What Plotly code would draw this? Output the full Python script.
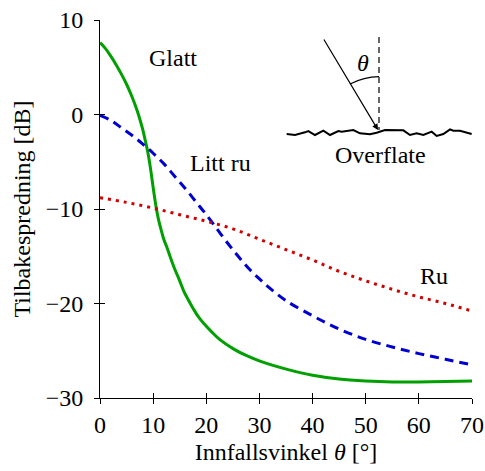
import plotly.graph_objects as go

# ---- data ----
glatt_x = [0, 1, 2, 3, 4, 5, 6, 7, 7.5, 8, 8.5, 9, 9.5, 10, 10.5, 11, 11.5, 12, 12.55, 13.3, 14.1, 15, 15.7, 16.5, 17.5, 18.5, 19.5, 21, 22.5, 25.1, 27.5, 30.1, 35.4, 40, 45, 50, 55, 60, 65, 70]
glatt_y = [7.6, 7.0, 6.2, 5.3, 4.3, 3.2, 1.9, 0.4, -0.5, -1.5, -2.7, -4.0, -5.7, -7.7, -9.6, -11.1, -12.2, -13.2, -14.0, -15.2, -16.4, -17.6, -18.6, -19.5, -20.5, -21.4, -22.1, -23.0, -23.8, -24.8, -25.5, -26.1, -27.0, -27.6, -28.0, -28.2, -28.3, -28.3, -28.25, -28.2]

littru_x = [0, 2, 4, 6, 8, 10, 12, 14, 16, 18, 20, 22, 24, 26, 28, 30, 32, 35, 40, 45, 50, 55, 60, 65, 70]
littru_y = [-0.1, -0.6, -1.4, -2.2, -3.1, -4.1, -5.2, -6.5, -7.8, -9.2, -10.6, -12.1, -13.6, -15.0, -16.3, -17.4, -18.4, -19.7, -21.3, -22.7, -23.8, -24.6, -25.3, -25.9, -26.5]

ru_x = [0, 5, 10, 15, 20, 25, 30, 35, 40, 45, 50, 55, 60, 65, 70]
ru_y = [-8.8, -9.3, -9.9, -10.6, -11.3, -12.1, -13.2, -14.3, -15.4, -16.6, -17.6, -18.5, -19.3, -20.0, -20.8]

x_ticks = [0, 10, 20, 30, 40, 50, 60, 70]
y_ticks = [-30, -20, -10, 0, 10]

FONT = "Liberation Serif"
FS = 24
W, H = 485, 471
ML, MR, MT, MB = 100, 13, 20, 73

def px(x, y):
    """pixel position -> paper coordinates"""
    return (x - ML) / (W - ML - MR), (H - MB - y) / (H - MT - MB)

fig = go.Figure()
fig.add_trace(go.Scatter(x=glatt_x, y=glatt_y, mode="lines", line=dict(color="#00a000", width=3, shape="spline", smoothing=1), showlegend=False))
fig.add_trace(go.Scatter(x=littru_x, y=littru_y, mode="lines", line=dict(color="#0000d0", width=3, dash="9px,6px", shape="spline"), showlegend=False))
fig.add_trace(go.Scatter(x=ru_x, y=ru_y, mode="lines", line=dict(color="#d00000", width=3, dash="3px,5px", shape="spline"), showlegend=False))
# dummy trace to host inside-tick overlay axes
fig.add_trace(go.Scatter(x=[None], y=[None], xaxis="x2", yaxis="y2", showlegend=False, hoverinfo="skip"))

axis_common = dict(showgrid=False, zeroline=False, showline=True, linecolor="black", linewidth=1,
                   ticks="outside", ticklen=5, tickcolor="black", tickwidth=1, automargin=False,
                   tickfont=dict(family=FONT, size=FS, color="black"))

fig.update_layout(
    width=W, height=H,
    margin=dict(l=ML, r=MR, t=MT, b=MB),
    plot_bgcolor="white", paper_bgcolor="white",
    font=dict(family=FONT, size=FS, color="black"),
    xaxis=dict(range=[0, 70], tickvals=x_ticks, ticklabelstandoff=0,
               title=dict(text="Innfallsvinkel <i>θ</i> [°]", font=dict(family=FONT, size=FS), standoff=6), **axis_common),
    yaxis=dict(range=[-30, 10], tickvals=y_ticks, ticklabelstandoff=6,
               title=dict(text="Tilbakespredning [dB]", font=dict(family=FONT, size=FS), standoff=8), **axis_common),
    xaxis2=dict(overlaying="x", matches="x", range=[0, 70], tickvals=x_ticks, showticklabels=False, ticks="inside", ticklen=5,
                tickcolor="black", showline=False, showgrid=False, zeroline=False),
    yaxis2=dict(overlaying="y", matches="y", range=[-30, 10], tickvals=y_ticks, showticklabels=False, ticks="inside", ticklen=5,
                tickcolor="black", showline=False, showgrid=False, zeroline=False),
)

# curve labels
for txt, x, y in [("Glatt", 13.7, 6.0), ("Litt ru", 22.6, -5.1), ("Ru", 62.9, -17.1)]:
    fig.add_annotation(x=x, y=y, text=txt, showarrow=False, font=dict(family=FONT, size=FS, color="black"))

# ---- inset diagram (surface illustration) ----
ox, oy = 270, 20
zig = [(50, 342), (75, 345), (105, 337), (115, 333), (135, 345), (160, 332), (180, 345), (205, 333), (215, 335),
       (250, 330), (270, 340), (300, 343), (320, 338), (345, 330), (400, 331), (420, 345), (440, 340), (460, 345),
       (485, 335), (500, 348), (520, 342), (540, 328), (550, 332), (570, 332), (605, 342)]
pts = [px(ox + a / 3, oy + b / 3) for a, b in zig]
path = "M " + " L ".join(f"{p[0]:.4f},{p[1]:.4f}" for p in pts)
fig.add_shape(type="path", path=path, xref="paper", yref="paper", line=dict(color="black", width=2))

# dashed normal
x0, y0 = px(379, 37)
x1, y1 = px(379, 130)
fig.add_shape(type="line", x0=x0, y0=y0, x1=x1, y1=y1, xref="paper", yref="paper", line=dict(color="black", width=1.2, dash="6px,4px"))

# incident arrow
ax1, ay1 = px(378, 130)
fig.add_annotation(x=ax1, y=ay1, ax=323 - 378, ay=38 - 130, xref="paper", yref="paper", axref="pixel", ayref="pixel",
                   showarrow=True, arrowhead=2, arrowsize=1, arrowwidth=1.2, arrowcolor="black", text="")

# arc
a0 = px(350, 84)
am = px(364, 78.5)
a1 = px(379, 76.7)
fig.add_shape(type="path", path=f"M {a0[0]:.4f},{a0[1]:.4f} Q {am[0]:.4f},{am[1]+0.004:.4f} {a1[0]:.4f},{a1[1]:.4f}",
              xref="paper", yref="paper", line=dict(color="black", width=1.2))

tx, ty = px(363, 63)
fig.add_annotation(x=tx, y=ty, xref="paper", yref="paper", xanchor="center", yanchor="middle",
                   text="<i>θ</i>", showarrow=False, font=dict(family=FONT, size=FS))
ox2, oy2 = px(380, 155)
fig.add_annotation(x=ox2, y=oy2, xref="paper", yref="paper", xanchor="center", yanchor="middle",
                   text="Overflate", showarrow=False, font=dict(family=FONT, size=FS))

fig.write_html("out.html")
